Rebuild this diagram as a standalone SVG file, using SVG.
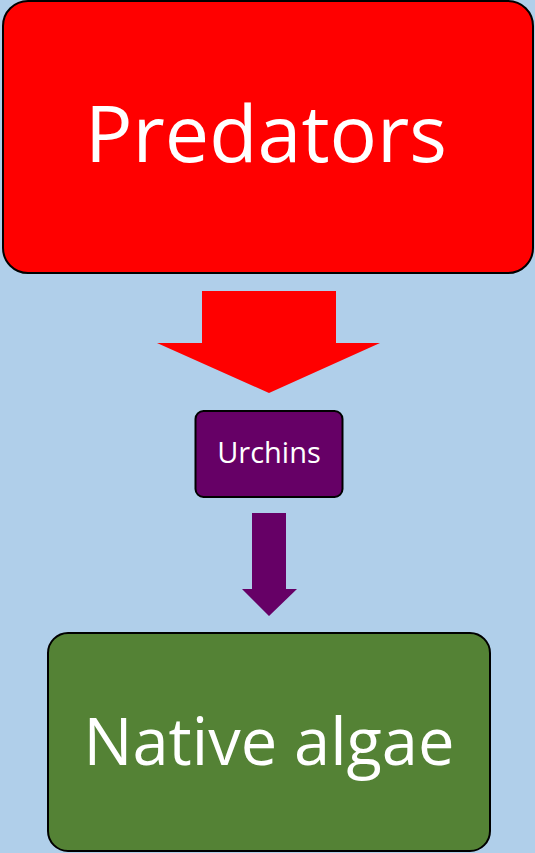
<svg xmlns="http://www.w3.org/2000/svg" width="535" height="853" viewBox="0 0 535 853">
<style>
.box{stroke:#000;stroke-width:2}
.lbl{font-family:"Open Sans","DejaVu Sans",sans-serif;fill:#fff;text-anchor:middle}
</style>
<rect x="0" y="0" width="535" height="853" fill="#b0cfea"/>
<g id="predators">
<rect class="box" x="3" y="1" width="530" height="272" rx="25" fill="#ff0000"/>
<text class="lbl" x="266" y="162" font-size="79">Predators</text>
</g>
<g id="urchins">
<rect class="box" x="195.5" y="411" width="147" height="86" rx="8" fill="#660066"/>
<text class="lbl" x="269" y="463" font-size="29">Urchins</text>
</g>
<g id="native-algae">
<rect class="box" x="48" y="633" width="442" height="218" rx="20" fill="#548235"/>
<text class="lbl" x="269" y="765" font-size="65">Native algae</text>
</g>
<g id="connectors">
<polygon points="202,291 336,291 336,343 380,343 269,393 157,343 202,343" fill="#ff0000"/>
<polygon points="252,513 286,513 286,589 297,589 269,616 242,589 252,589" fill="#660066"/>
</g>
</svg>
